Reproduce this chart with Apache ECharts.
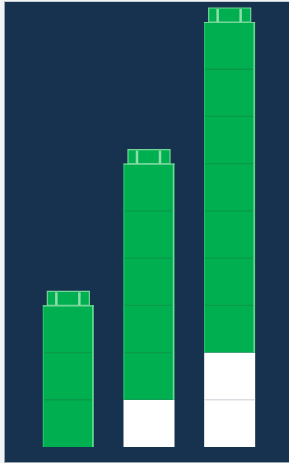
<!DOCTYPE html>
<html>
<head>
<meta charset="utf-8">
<script src="https://cdn.jsdelivr.net/npm/echarts@6/dist/echarts.min.js"></script>
<style>
html, body { margin: 0; padding: 0; background: #f2f3f5; }
#main {
  position: absolute; left: 4px; top: 1px;
  width: 284px; height: 460px;
  border-left: 1px solid #9aa3ad; border-top: 1px solid #c5cbd2; border-bottom: 1px solid #9aa3ad;
}
</style>
</head>
<body>
<div id="main"></div>
<script>
// blocks per column, white at the bottom, green stacked on top
var categories = ['1', '2', '3'];
var greenBlocks = [3, 5, 7];
var whiteBlocks = [0, 1, 2];

var green = '#00b050';
var greenLine = '#0b9a48';
var greenLight = '#74d598';
var barWidth = 51;

var myChart = echarts.init(document.getElementById('main'));

var seriesData = [];
for (var i = 0; i < categories.length; i++) {
  seriesData.push([i, whiteBlocks[i], greenBlocks[i]]);
}

function renderBlocks(params, api) {
  var idx = api.value(0);
  var w = api.value(1);
  var g = api.value(2);
  var cx = api.coord([idx, 0])[0];
  var unit = api.size([0, 1])[1];
  var left = cx - barWidth / 2;
  var children = [];
  var total = w + g;

  for (var k = 0; k < total; k++) {
    var top = api.coord([idx, k + 1])[1];
    var isWhite = k < w;
    children.push({
      type: 'rect',
      shape: { x: left, y: top, width: barWidth, height: unit },
      style: { fill: isWhite ? '#ffffff' : green }
    });
    // seam between two blocks of the same colour
    if (k > 0 && (k < w) === ((k - 1) < w)) {
      var y0 = api.coord([idx, k])[1];
      children.push({
        type: 'line',
        shape: { x1: left, y1: y0, x2: left + barWidth, y2: y0 },
        style: { stroke: isWhite ? '#dcdfe2' : greenLine, lineWidth: 1.2 }
      });
    }
  }

  var topY = api.coord([idx, total])[1];
  var greenBottom = api.coord([idx, w])[1];
  // light edges on the green part
  children.push({
    type: 'line',
    shape: { x1: left + barWidth - 1, y1: topY, x2: left + barWidth - 1, y2: greenBottom },
    style: { stroke: greenLight, lineWidth: 1.5 }
  });
  children.push({
    type: 'line',
    shape: { x1: left + 0.5, y1: topY, x2: left + 0.5, y2: greenBottom },
    style: { stroke: '#2cc06a', lineWidth: 1 }
  });
  children.push({
    type: 'line',
    shape: { x1: left, y1: topY + 0.5, x2: left + barWidth, y2: topY + 0.5 },
    style: { stroke: greenLight, lineWidth: 1.2 }
  });

  // the stud cap on top
  var capW = 42, capH = 14;
  var capX = cx - capW / 2;
  children.push({
    type: 'rect',
    shape: { x: capX, y: topY - capH, width: capW, height: capH },
    style: { fill: green, stroke: greenLight, lineWidth: 1.2 }
  });
  children.push({
    type: 'line',
    shape: { x1: capX + 9, y1: topY - capH + 1, x2: capX + 9, y2: topY },
    style: { stroke: '#8fdcac', lineWidth: 2.5 }
  });
  children.push({
    type: 'line',
    shape: { x1: capX + 32, y1: topY - capH + 1, x2: capX + 32, y2: topY },
    style: { stroke: '#8fdcac', lineWidth: 2.5 }
  });

  return { type: 'group', children: children };
}

var option = {
  backgroundColor: '#17324f',
  animation: false,
  grid: { left: 23, right: 19, top: 20, bottom: 15 },
  xAxis: {
    type: 'category',
    data: categories,
    show: false
  },
  yAxis: {
    type: 'value',
    min: 0,
    max: 9,
    show: false
  },
  series: [{
    type: 'custom',
    renderItem: renderBlocks,
    clip: false,
    encode: { x: 0, y: [1, 2] },
    data: seriesData
  }]
};

myChart.setOption(option);

window.addEventListener('resize', function () {
  myChart.resize();
});
</script>
</body>
</html>
